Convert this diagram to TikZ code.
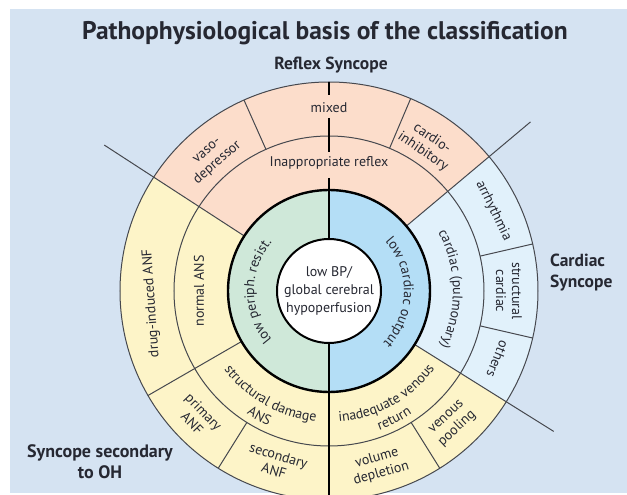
\documentclass[tikz,border=0pt]{standalone}
\usepackage{fontspec}
\setmainfont{PT Sans}
\newfontfamily\headfam{PT Sans}
\newfontfamily\labfam{PT Sans}
\usetikzlibrary{decorations.text}
\definecolor{bgblue}{RGB}{213,227,242}
\definecolor{pinkc}{RGB}{252,221,203}
\definecolor{yellowc}{RGB}{253,244,200}
\definecolor{greenc}{RGB}{207,232,217}
\definecolor{bluein}{RGB}{180,222,246}
\definecolor{blueout}{RGB}{225,241,251}
\definecolor{linec}{RGB}{70,72,78}
\definecolor{txtc}{RGB}{38,40,50}
\newcommand\labfont{\labfam\fontsize{14}{16}\selectfont\color{txtc}}
\newcommand\annsec[5]{\fill[#1] (#2:#4pt) arc[start angle=#2,end angle=#3,radius=#4pt] -- (#3:#5pt) arc[start angle=#3,end angle=#2,radius=#5pt] -- cycle;}
\begin{document}
\begin{tikzpicture}[x=1pt,y=1pt,
  lab/.style={font=\labfont, text=txtc, align=center, inner sep=0pt},
  thinline/.style={draw=linec, line width=1pt},
  heavy/.style={draw=black, line width=2.4pt},
  head/.style={text=txtc, inner sep=0pt, align=center}]
\useasboundingbox (-329,-204) rectangle (298,291);
\clip (-329,-204) rectangle (298,291);
\fill[white] (-329,-204) rectangle (298,291);
\fill[bgblue] (-319,-202) rectangle (298,282);
% sectors
\annsec{pinkc}{40}{147}{101}{209}
\annsec{blueout}{-32}{40}{101}{209}
\annsec{yellowc}{147}{328}{101}{209}
\annsec{greenc}{90}{270}{52}{101}
\annsec{bluein}{-90}{90}{52}{101}
% circles
\draw[thinline] (0,0) circle[radius=209pt];
\draw[thinline] (0,0) circle[radius=155pt];
% long dividers
\draw[thinline] (147:101pt) -- (147:268pt);
\draw[thinline] (40:101pt) -- (40:263pt);
\draw[thinline] (-32:101pt) -- (-32:265pt);
\draw[thinline] (210:101pt) -- (210:209pt);
% short dividers
\foreach \a in {114,67,13,-13,-58,238}{\draw[thinline] (\a:155pt) -- (\a:209pt);}
% vertical line
\draw[heavy] (0,209) -- (0,196);
\draw[heavy] (0,173) -- (0,139);
\draw[heavy] (0,113) -- (0,-204);
\draw[heavy] (0,0) circle[radius=101pt];
\fill[white] (0,0) circle[radius=52pt];
\draw[black, line width=2pt] (0,0) circle[radius=52pt];
% headings
\node[head, font=\headfam\bfseries\fontsize{25.5}{30}\selectfont] (title) at (-4,258) {Pathophysiological basis of the classification};
\node[head, font=\headfam\bfseries\fontsize{17.5}{20}\selectfont] (reflex) at (2,226) {Reflex Syncope};
\node[head, anchor=west, align=left, font=\headfam\bfseries\fontsize{17.5}{21}\selectfont] (cardiacs) at (221,18) {Cardiac\\Syncope};
\node[head, font=\headfam\bfseries\fontsize{18}{21}\selectfont] (ohs) at (-229,-171) {Syncope secondary\\to OH};
% straight labels
\node[lab, rotate=41] (vaso) at (131:177pt) {vaso-\\depressor};
\node[lab, rotate=-34] (cardio) at (56:176pt) {cardio-\\inhibitory};
\node[lab] (mixed) at (90:183pt) {mixed};
\node[lab] (inapp) at (90:128pt) {Inappropriate reflex};
\node[lab, rotate=-64] (arr) at (26:183pt) {arrhythmia};
\node[lab, rotate=-90] (struc) at (0:180pt) {structural\\cardiac};
\node[lab, rotate=-112] (others) at (-22:182pt) {others};
\node[lab, rotate=16] (vol) at (-74:182pt) {volume\\depletion};
\node[lab, rotate=43] (pool) at (-47:181pt) {venous\\pooling};
\node[lab, rotate=-17] (sec) at (253:180pt) {secondary\\ANF};
\node[lab, rotate=-46] (prim) at (224:182pt) {primary\\ANF};
\node[lab, rotate=94] (drug) at (184:178pt) {drug-induced ANF};
\node[lab, rotate=90] (normal) at (180:130pt) {normal ANS};
\node[lab, font=\labfam\fontsize{14}{18}\selectfont] (centre) at (0,0) {low BP/\\global cerebral\\hypoperfusion};
% curved labels
\path[decorate, decoration={text along path, text={|\labfont|low cardiac output}, text align=center}] (50:75pt) arc[start angle=50, end angle=-52, radius=75pt];
\path[decorate, decoration={text along path, text={|\labfont|low periph. resist.}, text align=center}] (232:75pt) arc[start angle=232, end angle=128, radius=75pt];
\path[decorate, decoration={text along path, text={|\labfont|cardiac (pulmonary)}, text align=center}] (40:124pt) arc[start angle=40, end angle=-38, radius=124pt];
\path[decorate, decoration={text along path, text={|\labfont|structural damage}, text align=center}] (200:131pt) arc[start angle=200, end angle=281, radius=131pt];
\path[decorate, decoration={text along path, text={|\labfont|ANS}, text align=center}] (220:148pt) arc[start angle=220, end angle=262, radius=148pt];
\path[decorate, decoration={text along path, text={|\labfont|inadequate venous}, text align=center}] (-100:131pt) arc[start angle=-100, end angle=-22, radius=131pt];
\path[decorate, decoration={text along path, text={|\labfont|return}, text align=center}] (-84:148pt) arc[start angle=-84, end angle=-42, radius=148pt];
\end{tikzpicture}
\end{document}
